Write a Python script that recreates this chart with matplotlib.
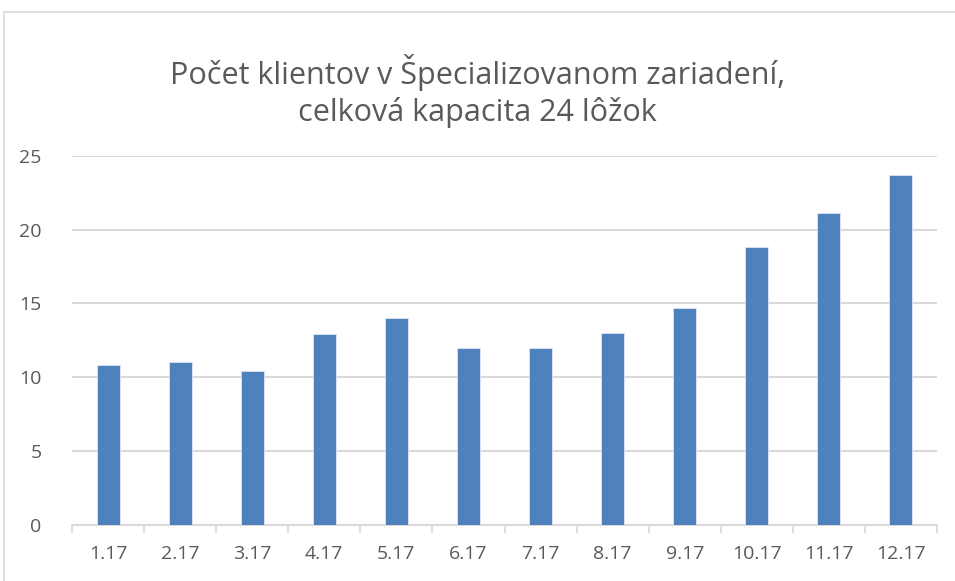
import matplotlib.pyplot as plt
from matplotlib.patches import Rectangle

months = ["1.17", "2.17", "3.17", "4.17", "5.17", "6.17",
          "7.17", "8.17", "9.17", "10.17", "11.17", "12.17"]
clients = [10.8, 11.0, 10.4, 12.9, 14.0, 12.0, 12.0, 13.0, 14.7, 18.8, 21.1, 23.7]
y_ticks = [0, 5, 10, 15, 20, 25]

title = "Počet klientov v Špecializovanom zariadení,\ncelková kapacita 24 lôžok"

plt.rcParams['font.family'] = ['Open Sans', 'DejaVu Sans']

fig = plt.figure(figsize=(9.55, 5.81), dpi=100)
fig.patches.append(Rectangle((4 / 955, -0.1), 1.1, 1 - 12 / 581 + 0.1,
                             transform=fig.transFigure, fill=False,
                             edgecolor='#d9d9d9', linewidth=1.2))

ax = fig.add_axes([72 / 955, 1 - 524.5 / 581, 865 / 955, (524.5 - 156) / 581])
x = list(range(len(months)))
ax.bar(x, clients, width=0.32, color='#4f81bd', edgecolor='#dce6f2', linewidth=0.6, zorder=3)

ax.set_xlim(-0.5, len(months) - 0.5)
ax.set_ylim(0, 25)
ax.set_yticks(y_ticks)
ax.yaxis.grid(True, color='#d9d9d9', linewidth=1.5, zorder=0)
ax.set_xticks(x)
ax.set_xticklabels(months)
ax.set_xticks([i - 0.5 for i in range(len(months) + 1)], minor=True)

for s in ['top', 'right', 'left']:
    ax.spines[s].set_visible(False)
ax.spines['bottom'].set_color('#d9d9d9')
ax.spines['bottom'].set_linewidth(1.5)

ax.tick_params(axis='y', length=0, pad=22, labelsize=14, labelcolor='#595959')
ax.tick_params(axis='x', which='major', length=0, pad=15, labelsize=14, labelcolor='#595959')
ax.tick_params(axis='x', which='minor', length=6, width=1.2, color='#d9d9d9')

fig.text(0.5, 1 - 91 / 581, title, ha='center', va='center', fontsize=22,
         color='#595959', linespacing=1.25)

fig.savefig('out.png', dpi=100)
